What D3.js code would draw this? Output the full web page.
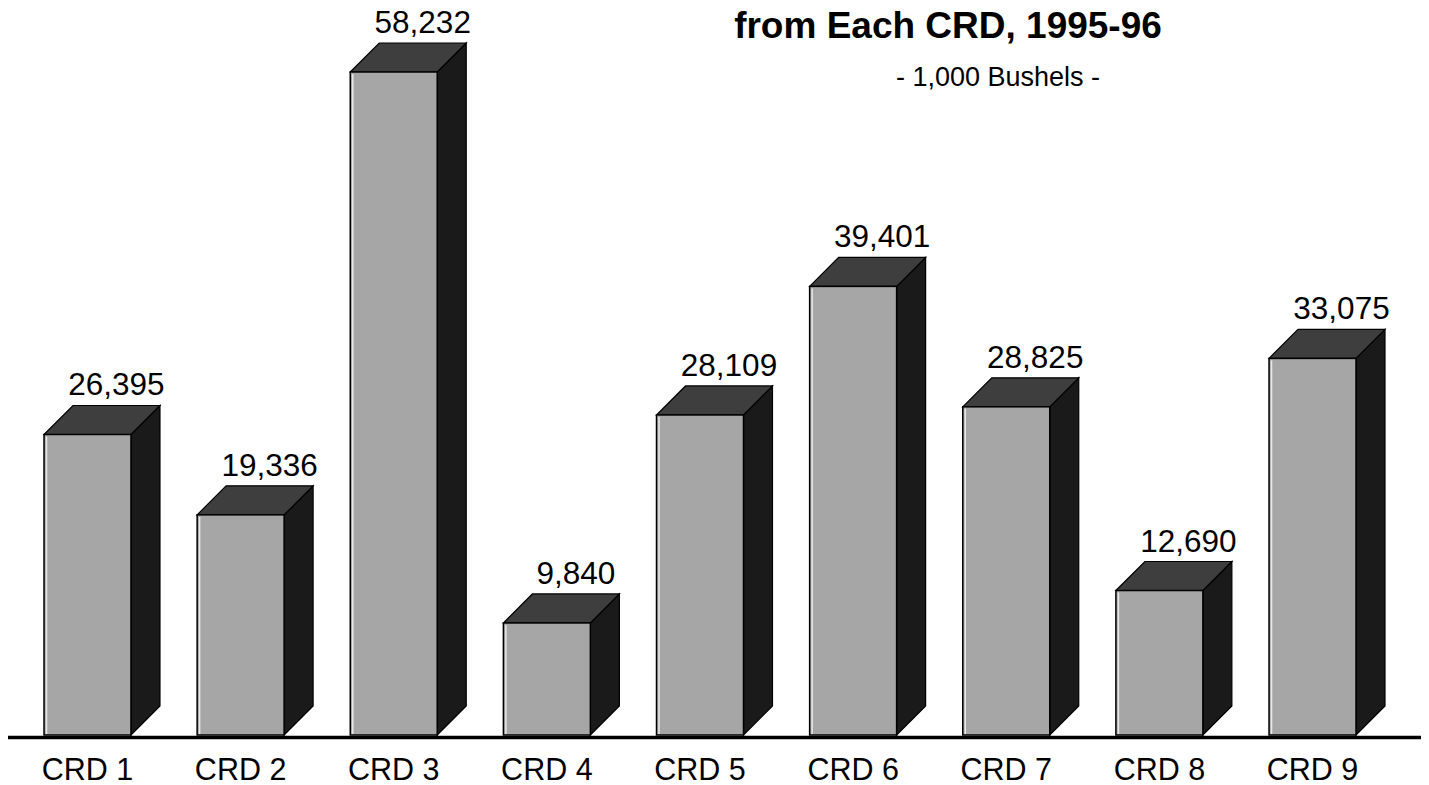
<!DOCTYPE html>
<html>
<head>
<meta charset="utf-8">
<script src="https://cdn.jsdelivr.net/npm/d3@7"></script>
<style>
  html, body { margin: 0; padding: 0; background: #fff; }
  svg { display: block; }
  text { font-family: "Liberation Sans", Arial, sans-serif; fill: #000; }
</style>
</head>
<body>
<svg id="chart" width="1429" height="785"></svg>
<script>
const categories = ["CRD 1", "CRD 2", "CRD 3", "CRD 4", "CRD 5", "CRD 6", "CRD 7", "CRD 8", "CRD 9"];
const values = [26395, 19336, 58232, 9840, 28109, 39401, 28825, 12690, 33075];
const valueLabels = ["26,395", "19,336", "58,232", "9,840", "28,109", "39,401", "28,825", "12,690", "33,075"];
const titleLine = "from Each CRD, 1995-96";
const subtitleLine = "- 1,000 Bushels -";

const W = 1429, H = 785;
const baseY = 735;
const depth = 29;
const svg = d3.select("#chart");

const x = d3.scaleBand()
  .domain(categories)
  .range([44, 1356])
  .paddingInner(0.432)
  .paddingOuter(0);

const y = d3.scaleLinear()
  .domain([0, 58232])
  .range([baseY, 72]);

const data = categories.map((c, i) => ({ cat: c, v: values[i], label: valueLabels[i] }));

const g = svg.append("g");

const bars = g.selectAll("g.bar").data(data).enter().append("g").attr("class", "bar");

// side face
bars.append("path")
  .attr("d", d => {
    const x1 = x(d.cat) + x.bandwidth();
    const yt = y(d.v);
    return `M${x1},${yt} L${x1 + depth},${yt - depth} L${x1 + depth},${baseY - depth} L${x1},${baseY} Z`;
  })
  .attr("fill", "#1a1a1a")
  .attr("stroke", "#000")
  .attr("stroke-width", 1.2);

// top face
bars.append("path")
  .attr("d", d => {
    const x0 = x(d.cat), x1 = x0 + x.bandwidth();
    const yt = y(d.v);
    return `M${x0},${yt} L${x0 + depth},${yt - depth} L${x1 + depth},${yt - depth} L${x1},${yt} Z`;
  })
  .attr("fill", "#3e3e3e")
  .attr("stroke", "#000")
  .attr("stroke-width", 1.2);

// front face
bars.append("rect")
  .attr("x", d => x(d.cat))
  .attr("y", d => y(d.v))
  .attr("width", x.bandwidth())
  .attr("height", d => baseY - y(d.v))
  .attr("fill", "#a6a6a6")
  .attr("stroke", "#000")
  .attr("stroke-width", 1.5);

// inner highlight on front face left edge
bars.append("line")
  .attr("x1", d => x(d.cat) + 2.5)
  .attr("x2", d => x(d.cat) + 2.5)
  .attr("y1", d => y(d.v) + 2)
  .attr("y2", baseY - 1)
  .attr("stroke", "#e8e8e8")
  .attr("stroke-width", 1.5);

// value labels
bars.append("text")
  .attr("x", d => x(d.cat) + x.bandwidth() / 2 + depth)
  .attr("y", d => y(d.v) - depth - 10)
  .attr("text-anchor", "middle")
  .attr("font-size", 31.5)
  .text(d => d.label);

// baseline axis
const xAxis = d3.axisBottom(x).tickSize(0).tickPadding(0);
const axisG = svg.append("g").attr("transform", `translate(0,${baseY + 2.5})`).call(xAxis);
axisG.select(".domain").remove();
axisG.selectAll(".tick text")
  .attr("font-size", 30.5)
  .attr("font-family", "Liberation Sans, Arial, sans-serif")
  .attr("fill", "#000")
  .attr("dy", 0)
  .attr("y", 42);

svg.append("line")
  .attr("x1", 8).attr("x2", 1421)
  .attr("y1", baseY + 2.5).attr("y2", baseY + 2.5)
  .attr("stroke", "#000")
  .attr("stroke-width", 3.5);

// titles
svg.append("text")
  .attr("x", 948).attr("y", 38)
  .attr("text-anchor", "middle")
  .attr("font-size", 37)
  .attr("font-weight", "bold")
  .text(titleLine);

svg.append("text")
  .attr("x", 998).attr("y", 86)
  .attr("text-anchor", "middle")
  .attr("font-size", 27)
  .text(subtitleLine);
</script>
</body>
</html>
